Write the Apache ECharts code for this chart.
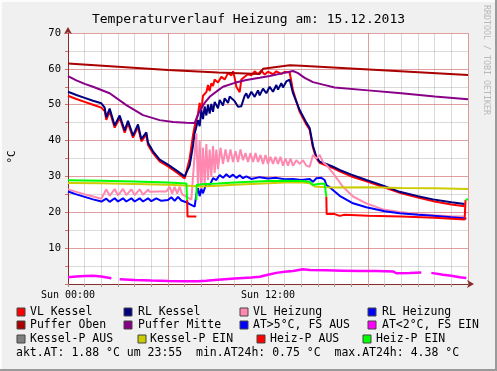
<!DOCTYPE html>
<html><head><meta charset="utf-8">
<script src="https://cdn.jsdelivr.net/npm/echarts@6/dist/echarts.min.js"></script>
<style>html,body{margin:0;padding:0;background:#f0f0f0;}#c{width:497px;height:371px;}</style>
</head><body><div id="c"></div>
<script>
// ---- data (x = hour of day, y = °C) ----
const titleText = 'Temperaturverlauf Heizung am: 15.12.2013';
const xTickLabels = {0: 'Sun 00:00', 12: 'Sun 12:00'};
const yTickLabels = [10, 20, 30, 40, 50, 60, 70];

const vlKessel = [[0,52.5],[0.5,51.6],[1,50.8],[1.5,50.0],[2.0,49.2],[2.2,48.2],[2.3,45.8],[2.5,48.2],[2.8,43.6],[3.1,46.3],[3.4,42.2],[3.6,44.8],[3.9,40.8],[4.2,43.8],[4.4,39.8],[4.7,41.7],[4.8,38.8],[5.1,36.5],[5.5,34.2],[6.0,32.8],[6.5,31.2],[7.0,29.4],[7.1,29.2],[7.3,35],[7.5,41.5],[7.6,44.0],[7.8,47.5],[7.9,50.5],[8.0,48.5],[8.1,52.5],[8.3,53.5],[8.4,55.5],[8.5,53.8],[8.6,56.0],[8.7,55.2],[8.8,57.0],[9.0,56.2],[9.2,57.8],[9.4,57.0],[9.6,58.8],[9.8,58.2],[9.9,59.3],[10.0,57.5],[10.1,55.0],[10.3,53.5],[10.4,57.0],[10.6,57.8],[10.8,58.5],[11.0,58.2],[11.2,59.3],[11.4,58.5],[11.6,59.5],[11.8,58.4],[12.0,59.2],[12.3,58.5],[12.5,59.3],[12.8,58.6],[13.0,59.2],[13.3,59.0],[13.5,54.0],[13.9,48.0],[14.3,44.5],[14.5,43.0],[14.7,38.0],[14.9,35.0],[15.1,33.8],[15.5,33.0],[15.9,32.3],[16.3,31.4],[17.0,30.0],[18.0,28.5],[19.0,26.9],[20.0,25.3],[21.0,24.1],[22.0,23.0],[23.0,22.2],[23.8,21.7]];
const rlKessel = [[0,53.6],[0.5,52.7],[1,51.9],[1.5,51.1],[2.0,50.4],[2.2,49.2],[2.3,46.5],[2.5,48.9],[2.8,44.2],[3.1,47.0],[3.4,42.8],[3.6,45.5],[3.9,41.4],[4.2,44.5],[4.4,40.4],[4.7,42.3],[4.8,39.4],[5.1,37.0],[5.5,34.7],[6.0,33.3],[6.5,31.7],[7.0,30.0],[7.1,29.9],[7.3,33],[7.5,38.5],[7.6,42],[7.8,45.7],[7.9,44],[8.0,48.5],[8.1,46],[8.2,49.5],[8.3,47],[8.4,50],[8.5,47.5],[8.6,50.2],[8.7,48.0],[8.8,50.8],[9.0,49.0],[9.1,51.3],[9.3,49.8],[9.4,51.8],[9.6,50.5],[9.7,52.3],[10.0,51.0],[10.2,49.4],[10.4,49.6],[10.6,52.5],[10.7,53.2],[10.8,51.8],[11.0,53.6],[11.2,52.2],[11.4,54.0],[11.5,52.6],[11.7,54.5],[11.9,53.2],[12.1,55.0],[12.3,53.6],[12.5,55.5],[12.6,54.2],[12.8,56.0],[12.9,54.8],[13.1,56.5],[13.3,57.0],[13.5,53.2],[13.9,48.5],[14.3,45.0],[14.5,43.5],[14.7,38.5],[14.9,35.5],[15.1,34.1],[15.5,33.5],[15.9,32.7],[16.3,31.8],[17.0,30.5],[17.9,29.0],[19.0,27.3],[19.9,25.7],[21.0,24.5],[21.9,23.6],[23.0,22.8],[23.8,22.3]];
const vlHeizung = [[0,26.4],[0.5,25.7],[1.0,25.0],[1.5,24.4],[2.0,23.8],[2.1,23.6],[2.3,26.4],[2.5,24.6],[2.8,26.5],[3.0,24.7],[3.3,26.5],[3.5,24.8],[3.8,26.4],[4.0,24.8],[4.3,26.4],[4.5,24.9],[4.8,26.3],[4.9,25.7],[5.5,25.8],[5.9,25.8],[6.1,27.1],[6.25,25.2],[6.4,27.1],[6.55,25.2],[6.7,27.1],[6.85,25.0],[7.1,24.4],[7.4,23.5],[7.55,33],[7.7,42],[7.8,27],[7.9,40],[8.0,26],[8.1,38],[8.2,28],[8.3,39],[8.4,29],[8.5,37.5],[8.6,30],[8.7,38.5],[8.8,31],[8.9,37.5],[9.0,32],[9.15,38],[9.3,33.5],[9.45,37.5],[9.6,34],[9.75,37.5],[9.9,34],[10.05,37],[10.2,34],[10.35,37.5],[10.5,34.5],[10.65,36.5],[10.8,34],[10.95,36.5],[11.1,34],[11.25,36.5],[11.4,34],[11.55,36],[11.7,33.5],[11.85,36],[12.0,33.5],[12.15,35.5],[12.3,33.5],[12.45,35.5],[12.6,33.5],[12.75,35.5],[12.9,33],[13.05,35],[13.2,33],[13.35,35],[13.5,33],[13.7,34.5],[13.9,33.5],[14.1,34.5],[14.3,33],[14.5,32.7],[14.7,36],[14.9,35],[15.1,36],[15.3,34],[15.5,33.2],[15.9,30.9],[16.2,29],[16.5,27.1],[17.1,24.4],[17.9,22.5],[18.9,20.8],[19.9,20.1],[21.0,19.5],[21.9,19.2],[23.0,18.9],[23.8,18.8]];
const rlHeizung = [[0,25.8],[0.5,25.0],[1,24.3],[1.5,23.6],[2.0,23.0],[2.1,22.8],[2.3,23.8],[2.5,22.9],[2.8,23.9],[3.0,23.0],[3.3,23.9],[3.5,23.0],[3.8,23.9],[4.0,23.0],[4.3,23.9],[4.5,23.0],[4.8,23.9],[5.0,23.1],[5.3,23.9],[5.6,23.2],[6.0,23.4],[6.2,24.2],[6.4,23.2],[6.6,24.3],[6.8,23.3],[7.1,22.8],[7.3,22.3],[7.6,21.6],[7.7,25],[7.8,26.7],[7.9,24.5],[8.0,26.5],[8.1,25.3],[8.3,28],[8.5,27.5],[8.7,29.5],[8.9,29.0],[9.1,30.4],[9.3,29.6],[9.5,30.6],[9.7,29.8],[9.9,30.5],[10.1,29.6],[10.3,30.3],[10.5,29.5],[10.7,30],[11,29.3],[11.5,29.8],[12,29.4],[12.5,29.6],[13,29.2],[13.5,29.3],[14,29.0],[14.5,29.3],[14.7,28.5],[14.9,29.5],[15.2,29.6],[15.4,29.0],[15.5,27.6],[15.7,27.0],[16.3,24.6],[17.1,22.5],[17.9,21.4],[19,20.3],[19.9,19.7],[21,19.3],[21.9,19.0],[23,18.6],[23.9,18.3]];
const pufferOben = [[0,61.5],[3,60.6],[6,59.7],[9,59.0],[11.5,58.6],[11.7,60.0],[12.5,60.5],[13.3,61.0],[14,60.9],[24,58.3]];
const pufferMitte = [[0,58.0],[0.5,56.8],[1,55.8],[1.5,55.0],[2.5,53.2],[3.5,49.9],[4.5,47.1],[5.5,45.7],[6.3,45.2],[7.1,45.0],[7.6,44.9],[7.9,48.3],[8.2,50.5],[8.5,52.2],[9.0,54.0],[9.3,55.0],[10,56.1],[10.7,56.9],[11.5,57.5],[12.1,58.0],[12.7,58.6],[13.3,59.2],[13.5,59.4],[13.8,58.8],[14.2,57.5],[14.7,56.3],[15.3,55.6],[16,54.8],[18,54.0],[20,53.2],[22,52.3],[24,51.5]];
const atUeber5 = [];
const atUnter2 = [[0,1.9],[0.5,2.1],[1,2.2],[1.5,2.3],[2,2.1],[2.6,1.6],[2.8,null],[3.1,1.3],[4,1.1],[5,0.95],[6,0.85],[7,0.8],[7.8,0.75],[8.3,0.9],[9,1.2],[10,1.5],[11,1.8],[11.5,2.0],[12,2.6],[12.5,3.1],[13,3.4],[13.5,3.6],[14.1,4.1],[14.5,3.9],[15.5,3.8],[16.5,3.7],[17.5,3.6],[18.5,3.6],[19.5,3.5],[19.7,3.0],[20.5,3.1],[21.2,3.2],[21.5,null],[21.8,3.1],[22.5,2.6],[23,2.3],[23.5,1.9],[23.9,1.7]];
const kesselPAus = [];
const kesselPEin = [[0,28.2],[2,28.1],[4,27.9],[6,27.7],[7,27.5],[8,27.2],[9,27.4],[10,27.7],[11,27.9],[12,28.1],[13,28.3],[14,28.4],[14.5,28.1],[14.8,27.2],[15.5,27.0],[16,26.9],[18,27.0],[20,26.8],[22,26.7],[24,26.5]];
const heizPAus = [[7.15,23.4],[7.17,18.8],[7.7,18.8],[7.75,null],[15.5,24.4],[15.52,19.5],[16.0,19.5],[16.3,19.0],[16.6,19.3],[18,19.0],[20,18.8],[22,18.5],[23.8,18.0],[23.85,23.4]];
const heizPEin = [[0,28.9],[2,28.8],[4,28.6],[6,28.3],[7.1,28.0],[7.15,23.4],[7.4,null],[7.7,23.4],[7.72,27.6],[8,27.8],[9,28.0],[10,28.3],[11,28.5],[12,28.7],[13,28.8],[14,28.7],[14.5,28.5],[14.7,27.6],[15,27.9],[15.4,28.0],[15.5,24.4],[16,null],[23.85,23.6],[24,23.6]];

const seriesNames = ['VL Kessel','RL Kessel','VL Heizung','RL Heizung','Puffer Oben','Puffer Mitte','AT>5°C, FS AUS','AT<2°C, FS EIN','Kessel-P AUS','Kessel-P EIN','Heiz-P AUS','Heiz-P EIN'];
const seriesData = [vlKessel, rlKessel, vlHeizung, rlHeizung, pufferOben, pufferMitte, atUeber5, atUnter2, kesselPAus, kesselPEin, heizPAus, heizPEin];
const seriesColors = ['#ff0000','#000080','#ff88b0','#0000ff','#aa0000','#880088','#0000ff','#ff00ff','#808080','#cccc00','#ff0000','#00ff00'];
const footerText = 'akt.AT: 1.88 °C um 23:55  min.AT24h: 0.75 °C  max.AT24h: 4.38 °C';

// ---- layout ----
const FONT = 'DejaVu Sans Mono';
const legendSquareX = [[17,124,240,368],[17,124,240,368],[17,138,257,363]];
const legendTextX = [[30,138,253,382],[30,138,253,382],[30,150,270,376]];
const legendRowY = [312,325,339];

const graphics = [];
// frame shading
graphics.push({type:'rect', shape:{x:0,y:0,width:497,height:2}, style:{fill:'#fcfcfc'}, silent:true});
graphics.push({type:'rect', shape:{x:0,y:0,width:2,height:371}, style:{fill:'#fcfcfc'}, silent:true});
graphics.push({type:'rect', shape:{x:0,y:369,width:497,height:2}, style:{fill:'#9a9a9a'}, silent:true});
graphics.push({type:'rect', shape:{x:495,y:0,width:2,height:371}, style:{fill:'#9a9a9a'}, silent:true});
seriesNames.forEach((n, i) => {
  const r = Math.floor(i / 4), c = i % 4;
  graphics.push({type:'rect', shape:{x:legendSquareX[r][c], y:legendRowY[r]-4, width:8, height:8},
    style:{fill:seriesColors[i], stroke:'#444', lineWidth:1}, silent:true});
  graphics.push({type:'text', x:legendTextX[r][c], y:legendRowY[r],
    style:{text:n, font:'11.5px "'+FONT+'"', fill:'#000', textVerticalAlign:'middle', textAlign:'left'}, silent:true});
});
graphics.push({type:'text', x:16, y:353, style:{text:footerText, font:'11.5px "'+FONT+'"', fill:'#000', textVerticalAlign:'middle', textAlign:'left'}, silent:true});
graphics.push({type:'text', x:12, y:157, rotation:Math.PI/2, style:{text:'°C', font:'11px "'+FONT+'"', fill:'#000', textAlign:'center', textVerticalAlign:'middle'}, silent:true});
graphics.push({type:'text', x:486, y:5, rotation:-Math.PI/2, style:{text:'RRDTOOL / TOBI OETIKER', font:'8.3px "'+FONT+'"', fill:'#b8b8b8', textAlign:'left', textVerticalAlign:'middle'}, silent:true});

const minorGrid = 'rgba(150,150,150,0.35)';
const majorGrid = 'rgba(235,70,70,0.4)';
const axisCol = '#8a2a2a';

const chart = echarts.init(document.getElementById('c'), null, {renderer:'canvas'});
chart.setOption({
  animation: false,
  backgroundColor: '#f0f0f0',
  title: {text: titleText, left: 'center', top: 8, textStyle: {fontFamily: FONT, fontSize: 13, fontWeight: 'normal', color: '#000'}},
  grid: {left: 68, right: 29, top: 33, bottom: 87, show: true, backgroundColor: '#fff', borderWidth: 0},
  xAxis: [
    {type:'value', min:0, max:24, interval:1,
     axisLine:{show:true, lineStyle:{color:axisCol, width:1}, symbol:['none','arrow'], symbolSize:[6,7], symbolOffset:[0,6]},
     axisTick:{show:true, length:3, lineStyle:{color:'#999'}},
     axisLabel:{show:true, margin:6, color:'#000', fontFamily:FONT, fontSize:10, showMinLabel:true, showMaxLabel:true,
       formatter: v => xTickLabels[v] || ''},
     splitLine:{show:true, lineStyle:{color:minorGrid, width:1}}},
    {type:'value', min:0, max:24, interval:6, position:'bottom',
     axisLine:{show:false}, axisTick:{show:false}, axisLabel:{show:false},
     splitLine:{show:true, lineStyle:{color:majorGrid, width:1}}}
  ],
  yAxis: [
    {type:'value', min:0, max:70, interval:5,
     axisLine:{show:true, lineStyle:{color:axisCol, width:1}, symbol:['none','arrow'], symbolSize:[6,7], symbolOffset:[0,6]},
     axisTick:{show:true, length:3, lineStyle:{color:'#d07070'}},
     axisLabel:{show:true, margin:7, color:'#000', fontFamily:FONT, fontSize:10.5,
       formatter: v => yTickLabels.indexOf(v) >= 0 ? String(v) : ''},
     splitLine:{show:true, lineStyle:{color:minorGrid, width:1}}},
    {type:'value', min:0, max:70, interval:10, position:'left',
     axisLine:{show:false}, axisTick:{show:false}, axisLabel:{show:false},
     splitLine:{show:true, lineStyle:{color:majorGrid, width:1}}}
  ],
  series: seriesNames.map((n, i) => ({
    name: n, type: 'line', xAxisIndex: 0, yAxisIndex: 0,
    data: seriesData[i], showSymbol: false, symbol: 'none', connectNulls: false,
    lineStyle: {color: seriesColors[i], width: i === 7 ? 2.5 : 2},
    itemStyle: {color: seriesColors[i]}, z: 2 + i * 0.01
  })),
  graphic: graphics
});
</script></body></html>
